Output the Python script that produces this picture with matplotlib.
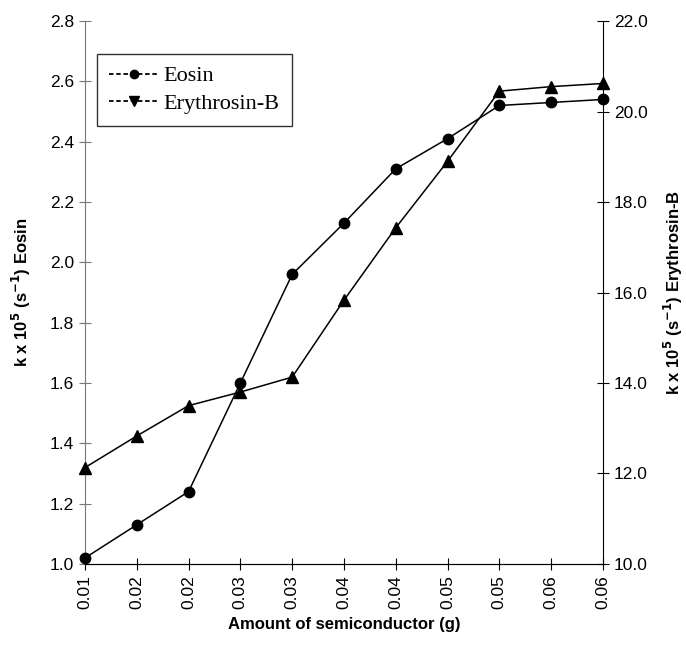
import matplotlib
matplotlib.use('Agg')
import matplotlib.pyplot as plt
from matplotlib.lines import Line2D

# semiconductor amount labels (categorical x axis)
x_labels = ['0.01', '0.02', '0.02', '0.03', '0.03', '0.04', '0.04', '0.05', '0.05', '0.06', '0.06']
eosin_k = [1.02, 1.13, 1.24, 1.60, 1.96, 2.13, 2.31, 2.41, 2.52, 2.53, 2.54]
erythrosin_k = [12.13, 12.83, 13.5, 13.8, 14.13, 15.83, 17.43, 18.9, 20.45, 20.55, 20.62]

plt.rcParams['font.family'] = ['Liberation Sans', 'DejaVu Sans']

fig = plt.figure(figsize=(6.86, 6.49), dpi=100)
ax = fig.add_axes([0.1239, 0.131, 0.755, 0.8366])
ax2 = ax.twinx()

pos = list(range(len(x_labels)))
ax.plot(pos, eosin_k, color='black', lw=1.1, marker='o', ms=7.5, clip_on=False, zorder=3)
ax2.plot(pos, erythrosin_k, color='black', lw=1.1, marker='^', ms=8.5, clip_on=False, zorder=3)

ax.set_xlim(0, len(x_labels) - 1)
ax.set_ylim(1.0, 2.8)
ax2.set_ylim(10.0, 22.0)
ax.set_yticks([1.0 + 0.2 * i for i in range(10)])
ax.set_yticklabels([f'{1.0 + 0.2 * i:.1f}' for i in range(10)])
ax2.set_yticks([10.0 + 2 * i for i in range(7)])
ax2.set_yticklabels([f'{10.0 + 2 * i:.1f}' for i in range(7)])
ax.set_xticks(pos)
ax.set_xticklabels(x_labels, rotation=90)

for a in (ax, ax2):
    a.spines['top'].set_visible(False)
ax.spines['left'].set_color('#777777')
ax2.spines['left'].set_visible(False)
ax.spines['right'].set_visible(False)
ax.tick_params(axis='both', direction='inout', length=9, width=0.8, labelsize=12.5)
ax.tick_params(axis='y', color='#777777')
ax2.tick_params(axis='y', direction='inout', length=9, width=0.8, labelsize=12.5)

ax.set_xlabel('Amount of semiconductor (g)', fontsize=12, fontweight='bold', labelpad=6)
ax.set_ylabel(r'k x 10$^{\mathbf{5}}$ (s$^{\mathbf{-1}}$) Eosin', fontsize=12, fontweight='bold', labelpad=12)
ax2.set_ylabel(r'k x 10$^{\mathbf{5}}$ (s$^{\mathbf{-1}}$) Erythrosin-B', fontsize=12, fontweight='bold', labelpad=10)

handles = [Line2D([], [], color='black', ls=(0, (2.5, 1.5)), lw=1.3, marker='o', ms=6),
           Line2D([], [], color='black', ls=(0, (2.5, 1.5)), lw=1.3, marker='v', ms=7)]
leg = ax.legend(handles, ['Eosin', 'Erythrosin-B'], loc='upper left', bbox_to_anchor=(0.023, 0.94),
                borderaxespad=0, prop={'family': 'Liberation Serif', 'size': 16}, frameon=True,
                fancybox=False, edgecolor='black', handlelength=2.2, borderpad=0.55,
                labelspacing=0.3, handletextpad=0.25)
leg.get_frame().set_linewidth(1.0)

fig.savefig('out.png', dpi=100)
